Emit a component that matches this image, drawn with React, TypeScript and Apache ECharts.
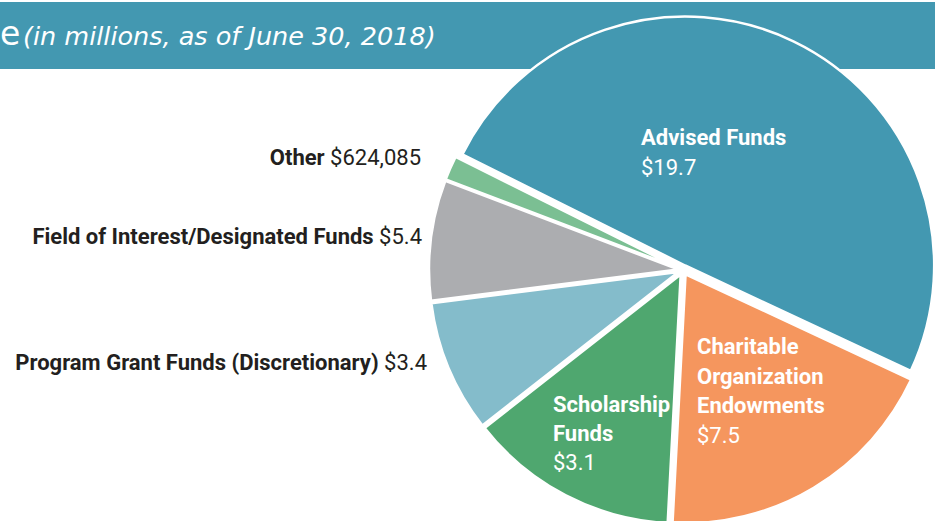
import React, { useEffect, useRef } from "react";
import * as echarts from "echarts";

// Categories in clockwise order, starting from the upper-left edge of "Advised Funds"
const categories = [
  "Advised Funds",
  "Charitable Organization Endowments",
  "Scholarship Funds",
  "Program Grant Funds (Discretionary)",
  "Field of Interest/Designated Funds",
  "Other",
];
const labelNames = [
  "Advised Funds",
  "Charitable\nOrganization\nEndowments",
  "Scholarship\nFunds",
  "Program Grant Funds (Discretionary)",
  "Field of Interest/Designated Funds",
  "Other",
];
// printed amounts (in millions, Other in dollars)
const amountLabels = ["$19.7", "$7.5", "$3.1", "$3.4", "$5.4", "$624,085"];
// wedge sizes (millions) as drawn in the reference picture; the reference draws the
// Scholarship and Field of Interest wedges with each other's sizes
const sliceValues = [19.7, 7.5, 5.4, 3.4, 3.1, 0.624085];
const sliceColors = ["#4398b1", "#f5965e", "#4fa76f", "#84bccb", "#acadb0", "#7bbf93"];
const labelInside = [true, true, true, false, false, false];

const titleWordEnd = "e";
const titleNote = "(in millions, as of June 30, 2018)";

// label anchors (layout only)
const labelAnchors = [
  { x: 641, y: 122, lh: 30 },
  { x: 697, y: 332, lh: 29.5 },
  { x: 553, y: 390, lh: 29 },
  { x: 427, y: 362, lh: 30 },
  { x: 422, y: 236, lh: 30 },
  { x: 421, y: 157, lh: 30 },
];

const FONT = "Roboto, 'Liberation Sans', sans-serif";
const TEAL = "#4398b1";
const DARK = "#231f20";

export default function App() {
  const ref = useRef<HTMLDivElement>(null);
  useEffect(() => {
    if (!ref.current) return;
    const chart = echarts.init(ref.current, null, { renderer: "svg" });
    const data = categories.map((name, i) => ({
      name,
      value: sliceValues[i],
      selected: true,
      itemStyle: { color: sliceColors[i] },
      select: { itemStyle: { color: sliceColors[i], borderColor: "#ffffff", borderWidth: 2.5 } },
    }));
    const labelGraphics = categories.map((_, i) => {
      const inside = labelInside[i];
      const a = labelAnchors[i];
      const col = inside ? "#ffffff" : DARK;
      const text = inside
        ? labelNames[i].split("\n").map((l) => `{b|${l}}`).join("\n") + `\n{v|${amountLabels[i]}}`
        : `{b|${labelNames[i]}}{v| ${amountLabels[i]}}`;
      return {
        type: "text",
        z: 10,
        x: a.x,
        y: a.y,
        style: {
          text,
          align: inside ? "left" : "right",
          verticalAlign: inside ? "top" : "middle",
          rich: {
            b: { fontFamily: FONT, fontWeight: "bold", fontSize: 22, lineHeight: a.lh, fill: col },
            v: { fontFamily: FONT, fontWeight: "normal", fontSize: 22, lineHeight: a.lh, fill: col },
          },
        },
      };
    });
    chart.setOption({
      animation: false,
      backgroundColor: "#ffffff",
      graphic: [
        { type: "rect", z: 0, shape: { x: 0, y: 2, width: 935, height: 67 }, style: { fill: TEAL } },
        {
          type: "text", z: 1, x: 0, y: 33,
          style: { text: titleWordEnd, fontFamily: "'DejaVu Sans'", fontSize: 33, fill: "#ffffff", verticalAlign: "middle" },
        },
        {
          type: "text", z: 1, x: 23, y: 36,
          style: { text: titleNote, fontFamily: "'DejaVu Sans'", fontStyle: "italic", fontSize: 25.5, fill: "#ffffff", verticalAlign: "middle" },
        },
        ...labelGraphics,
      ],
      series: [
        {
          type: "pie",
          z: 5,
          center: [683, 270],
          radius: [0, 249],
          startAngle: 153.5,
          clockwise: true,
          selectedMode: "multiple",
          selectedOffset: 5,
          avoidLabelOverlap: false,
          emphasis: { disabled: true },
          itemStyle: { borderColor: "#ffffff", borderWidth: 2.5 },
          label: { show: false },
          labelLine: { show: false },
          data,
        },
      ],
    });
    return () => chart.dispose();
  }, []);
  return (
    <div
      ref={ref}
      style={{ position: "fixed", left: 0, top: 0, width: 935, height: 521 }}
    />
  );
}
